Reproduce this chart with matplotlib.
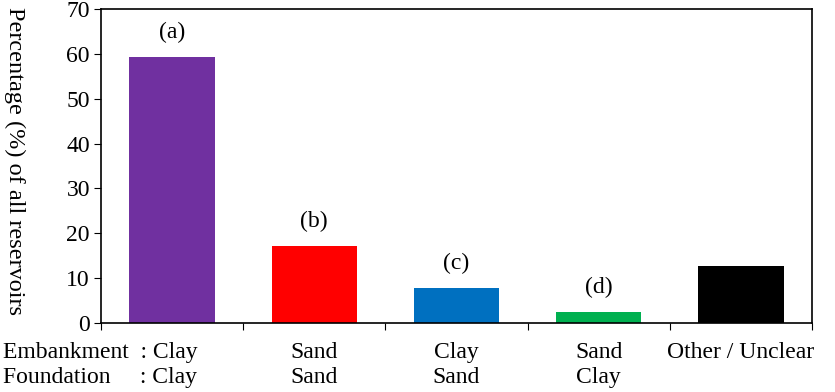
import matplotlib
matplotlib.use("Agg")
import matplotlib.pyplot as plt
import matplotlib.transforms as mtransforms
import numpy as np

# Données
embankment = ["Clay", "Sand", "Clay", "Sand", "Other / Unclear"]
foundation = ["Clay", "Sand", "Sand", "Clay", ""]
percent = [59.4, 17.1, 7.8, 2.4, 12.8]
tags = ["(a)", "(b)", "(c)", "(d)", ""]
colors = ["#7030A0", "#FF0000", "#0070C0", "#00B050", "#000000"]

plt.rcParams['font.family'] = ['Liberation Serif', 'DejaVu Serif']
fs = 17

fig = plt.figure(figsize=(8.35, 3.92), dpi=100)
ax = fig.add_axes([101 / 835, 1 - 323 / 392, 711 / 835, 314 / 392])

x = np.arange(len(percent))
ax.bar(x, percent, width=0.6, color=colors, zorder=2)

# Étiquettes (a)-(d) au-dessus des barres
for xi, v, t in zip(x, percent, tags):
    if t:
        ax.annotate(t, (xi, v), xytext=(0, 10), textcoords='offset points',
                    ha='center', va='bottom', fontsize=fs)

ax.set_xlim(-0.5, len(percent) - 0.5)
ax.set_ylim(0, 70)
ax.set_yticks(np.arange(0, 71, 10))
ax.tick_params(axis='y', labelsize=fs, direction='out', length=5, pad=3)

# graduations aux limites des catégories
ax.set_xticks(np.arange(-0.5, len(percent), 1.0))
ax.set_xticklabels([])
ax.tick_params(axis='x', direction='out', length=5)

for sp in ax.spines.values():
    sp.set_linewidth(1.2)

# Libellés des catégories (deux lignes)
tr = ax.get_xaxis_transform()
for xi, e, f in zip(x[1:], embankment[1:], foundation[1:]):
    lab = e if not f else e + "\n" + f
    ax.text(xi, -0.062, lab, transform=tr, ha='center', va='top',
            fontsize=fs, linespacing=1.2)

blend = mtransforms.blended_transform_factory(fig.transFigure, ax.transAxes)
ax.text(3 / 835, -0.062,
        "Embankment  : " + embankment[0] + "\nFoundation     : " + foundation[0],
        transform=blend, ha='left', va='top', fontsize=fs, linespacing=1.2)

fig.text(15 / 835, 1 - 7 / 392, "Percentage (%) of all reservoirs",
         rotation=270, ha='center', va='top', fontsize=17.5)

fig.savefig("out.png", dpi=100)
